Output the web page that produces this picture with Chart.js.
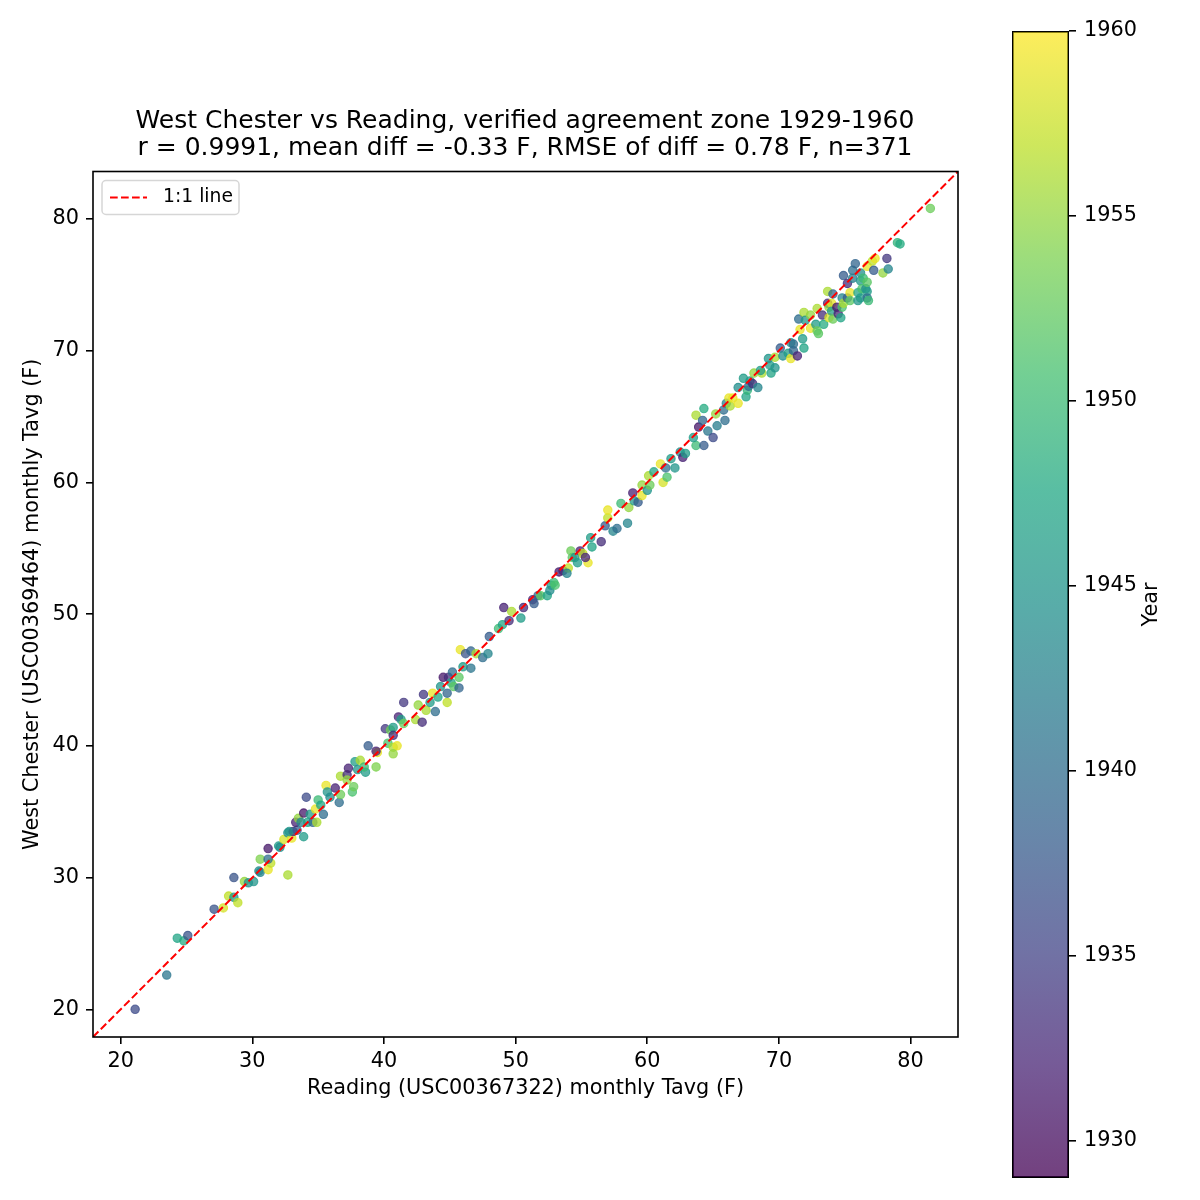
<!DOCTYPE html>
<html>
<head>
<meta charset="utf-8">
<title>West Chester vs Reading</title>
<script src="https://cdn.jsdelivr.net/npm/chart.js@4.4.1/dist/chart.umd.min.js"></script>
<style>
  html, body { margin: 0; padding: 0; background: #fff; }
  #wrap { position: relative; width: 1200px; height: 1200px; }
  #main { position: absolute; left: 0; top: 0; }
  #cbar { position: absolute; left: 1000px; top: 0; }
</style>
</head>
<body>
<div id="wrap">
  <canvas id="main" width="1050" height="1200"></canvas>
  <canvas id="cbar" width="200" height="1200"></canvas>
</div>
<script>
/* West Chester vs Reading monthly Tavg scatter, coloured by year */

// Reading (x), West Chester (y), year of each month
const readingF = [
  21.1, 23.5, 24.3, 24.8, 25.1, 27.1, 27.8, 28.2, 28.6, 28.9,
  28.6, 29.4, 29.7, 30.1, 30.5, 30.6, 30.6, 31.2, 31.2, 31.4,
  31.2, 32.0, 32.7, 32.1, 32.4, 32.7, 33.0, 33.1, 32.8, 33.4,
  33.3, 33.5, 33.7, 33.9, 33.9, 34.1, 34.2, 34.4, 34.6, 34.9,
  34.8, 35.0, 35.2, 35.4, 35.6, 35.7, 35.9, 36.3, 36.7, 36.6,
  36.7, 37.2, 37.2, 37.3, 37.6, 37.7, 37.8, 38.0, 38.2, 38.6,
  38.5, 38.8, 39.4, 39.5, 39.4, 40.1, 40.3, 40.5, 40.7, 40.7,
  40.7, 41.0, 40.7, 41.1, 41.3, 41.5, 41.5, 42.4, 42.9, 42.6,
  43.0, 43.2, 43.5, 43.7, 43.9, 44.1, 44.8, 44.8, 44.3, 44.5,
  44.9, 45.1, 45.3, 45.2, 45.7, 45.7, 46.0, 46.6, 45.8, 46.2,
  46.6, 47.0, 47.5, 47.9, 48.0, 48.7, 49.0, 49.1, 49.5, 49.7,
  50.4, 50.6, 51.3, 51.4, 51.7, 51.9, 52.4, 52.6, 52.7, 52.9,
  53.0, 53.3, 53.6, 54.0, 53.9, 54.2, 54.3, 54.5, 54.7, 54.9,
  55.1, 55.5, 55.3, 55.7, 55.8, 56.5, 56.8, 57.0, 57.0, 57.4,
  57.7, 58.5, 58.0, 58.6, 58.9, 59.0, 59.3, 59.6, 59.6, 60.0,
  60.2, 60.1, 60.5, 61.0, 61.2, 61.5, 61.4, 61.8, 62.1, 62.5,
  62.7, 62.9, 63.7, 63.5, 63.7, 63.9, 64.2, 64.3, 64.3, 64.6,
  65.0, 65.2, 65.3, 65.8, 65.9, 66.0, 66.2, 66.3, 66.5, 66.9,
  67.5, 66.9, 67.6, 67.3, 67.8, 67.7, 68.0, 68.1, 68.4, 68.7,
  68.6, 69.3, 69.4, 69.2, 69.7, 69.7, 70.1, 70.3, 70.7, 70.9,
  70.9, 71.1, 71.4, 71.1, 71.8, 71.9, 71.6, 71.5, 71.9, 72.0,
  72.4, 72.4, 72.8, 72.9, 73.0, 73.4, 72.9, 73.3, 73.7, 73.8,
  73.8, 73.7, 74.0, 74.0, 74.1, 74.1, 74.4, 74.5, 74.7, 74.8,
  74.8, 74.9, 74.9, 75.2, 75.2, 75.4, 75.4, 75.6, 75.6, 75.8,
  76.0, 76.0, 76.2, 76.2, 76.2, 76.3, 76.4, 76.6, 76.7, 76.7,
  76.7, 76.7, 76.8, 77.1, 77.2, 77.3, 77.9, 78.2, 78.3, 79.0,
  79.2, 81.5
];
const westChesterF = [
  20.0, 22.6, 25.4, 25.2, 25.6, 27.6, 27.7, 28.6, 28.5, 28.1,
  30.0, 29.7, 29.6, 29.7, 30.5, 30.4, 31.4, 32.2, 30.6, 31.1,
  31.4, 32.4, 30.2, 32.3, 32.9, 33.4, 33.0, 33.5, 33.5, 33.6,
  34.2, 34.5, 34.2, 33.1, 34.9, 36.1, 34.2, 34.8, 34.2, 34.2,
  35.2, 35.9, 35.5, 34.8, 37.0, 36.5, 36.1, 36.8, 37.7, 35.7,
  36.3, 37.8, 37.4, 38.3, 36.5, 36.9, 38.8, 38.2, 38.9, 38.0,
  38.4, 40.0, 38.4, 39.5, 39.6, 41.3, 40.2, 41.2, 41.4, 40.8,
  39.9, 40.0, 39.4, 42.2, 42.0, 41.7, 43.3, 42.0, 41.8, 43.1,
  43.9, 42.7, 43.3, 44.0, 42.6, 43.7, 43.3, 44.0, 44.5, 45.2,
  45.2, 44.8, 44.5, 45.6, 44.4, 45.2, 46.0, 45.9, 47.3, 47.0,
  47.2, 47.0, 46.7, 47.0, 48.3, 48.9, 49.2, 50.5, 49.5, 50.2,
  49.7, 50.5, 51.1, 50.8, 51.4, 51.4, 51.4, 51.8, 52.2, 52.4,
  52.2, 53.2, 53.3, 53.5, 53.1, 54.8, 54.3, 54.3, 53.9, 54.8,
  54.6, 53.9, 54.3, 55.8, 55.1, 55.5, 56.7, 57.3, 57.9, 56.3,
  56.5, 56.9, 58.4, 58.1, 59.2, 58.6, 58.5, 59.0, 59.8, 59.4,
  59.8, 60.5, 60.8, 61.4, 60.0, 60.4, 61.1, 61.8, 61.1, 62.3,
  61.9, 62.2, 62.8, 63.4, 65.1, 64.2, 64.7, 65.6, 62.8, 63.9,
  63.4, 65.2, 64.3, 65.5, 64.7, 66.0, 66.4, 65.8, 66.4, 66.0,
  66.5, 67.2, 67.0, 67.9, 67.7, 67.3, 67.5, 68.3, 67.2, 68.3,
  68.5, 68.9, 68.3, 69.4, 68.7, 69.5, 70.2, 69.6, 69.8, 70.6,
  69.4, 70.0, 69.6, 70.5, 70.9, 70.2, 71.6, 72.4, 72.9, 72.3,
  72.7, 71.7, 72.0, 71.5, 71.3, 72.0, 73.2, 72.7, 73.6, 73.3,
  72.5, 74.5, 73.6, 73.0, 74.3, 72.4, 73.3, 72.8, 72.5, 74.0,
  73.3, 73.6, 75.7, 74.0, 75.1, 74.4, 73.8, 76.1, 75.5, 76.6,
  74.4, 73.8, 75.3, 74.0, 75.9, 74.7, 75.5, 74.7, 74.5, 74.0,
  75.2, 76.4, 73.8, 76.8, 76.1, 77.0, 75.9, 77.0, 76.2, 78.2,
  78.1, 80.8
];
const obsYear = [
  1936, 1941, 1947, 1948, 1937, 1937, 1958, 1957, 1945, 1957,
  1937, 1955, 1944, 1945, 1944, 1943, 1954, 1931, 1959, 1957,
  1940, 1946, 1956, 1944, 1958, 1944, 1959, 1932, 1945, 1938,
  1932, 1955, 1943, 1946, 1931, 1936, 1947, 1946, 1939, 1956,
  1959, 1950, 1947, 1940, 1959, 1945, 1944, 1932, 1956, 1940,
  1953, 1933, 1955, 1932, 1951, 1953, 1946, 1945, 1956, 1946,
  1950, 1938, 1954, 1959, 1932, 1934, 1951, 1953, 1946, 1933,
  1956, 1959, 1955, 1932, 1946, 1953, 1934, 1956, 1933, 1955,
  1934, 1956, 1946, 1959, 1940, 1947, 1957, 1939, 1945, 1931,
  1933, 1947, 1952, 1940, 1939, 1952, 1946, 1941, 1959, 1937,
  1939, 1956, 1940, 1943, 1938, 1950, 1947, 1932, 1933, 1956,
  1946, 1933, 1932, 1938, 1939, 1952, 1947, 1944, 1945, 1950,
  1951, 1931, 1932, 1957, 1943, 1953, 1952, 1945, 1946, 1932,
  1957, 1959, 1932, 1946, 1947, 1933, 1938, 1957, 1959, 1943,
  1940, 1943, 1950, 1955, 1932, 1946, 1938, 1959, 1955, 1945,
  1953, 1956, 1947, 1959, 1958, 1951, 1940, 1946, 1945, 1944,
  1932, 1946, 1950, 1946, 1956, 1931, 1939, 1948, 1938, 1941,
  1936, 1955, 1942, 1940, 1940, 1943, 1959, 1956, 1959, 1959,
  1947, 1944, 1949, 1946, 1946, 1940, 1933, 1955, 1943, 1956,
  1946, 1946, 1947, 1945, 1945, 1956, 1938, 1944, 1946, 1944,
  1959, 1939, 1932, 1940, 1946, 1947, 1959, 1940, 1956, 1945,
  1955, 1959, 1946, 1953, 1952, 1948, 1956, 1933, 1933, 1955,
  1958, 1956, 1959, 1946, 1939, 1953, 1931, 1932, 1947, 1943,
  1951, 1956, 1938, 1938, 1933, 1959, 1952, 1940, 1942, 1939,
  1947, 1945, 1945, 1946, 1944, 1951, 1950, 1944, 1946, 1940,
  1952, 1959, 1950, 1957, 1938, 1959, 1955, 1934, 1943, 1949,
  1948, 1953
];

const axisRange = [17.9, 83.6];
const axisTicks = [20, 30, 40, 50, 60, 70, 80];
const yearRange = [1929, 1960];
const yearTicks = [1930, 1935, 1940, 1945, 1950, 1955, 1960];

const titleLines = [
  'West Chester vs Reading, verified agreement zone 1929-1960',
  'r = 0.9991, mean diff = -0.33 F, RMSE of diff = 0.78 F, n=371'
];

// viridis colormap stops
const VIRIDIS = ['#440154', '#482475', '#414487', '#355f8d', '#2a788e', '#21918c',
                 '#22a884', '#44bf70', '#7ad151', '#bddf26', '#fde725'];
const ALPHA = 0.75;

function hexRgb(h) {
  return [parseInt(h.slice(1, 3), 16), parseInt(h.slice(3, 5), 16), parseInt(h.slice(5, 7), 16)];
}
function viridis(t, a) {
  t = Math.max(0, Math.min(1, t));
  const s = t * (VIRIDIS.length - 1);
  const i = Math.min(Math.floor(s), VIRIDIS.length - 2);
  const f = s - i;
  const c0 = hexRgb(VIRIDIS[i]), c1 = hexRgb(VIRIDIS[i + 1]);
  const c = c0.map((v, k) => Math.round(v + (c1[k] - v) * f));
  return `rgba(${c[0]},${c[1]},${c[2]},${a})`;
}

Chart.defaults.font.family = "'DejaVu Sans', sans-serif";
Chart.defaults.color = '#000';

const FS = 20.8;
const LEGEND_FS = 18.75;
const pointColors = obsYear.map((y) => viridis((y - yearRange[0]) / (yearRange[1] - yearRange[0]), ALPHA));
const points = readingF.map((x, i) => ({ x, y: westChesterF[i] }));

const fixedTicks = (vals) => (axis) => { axis.ticks = vals.map((v) => ({ value: v })); };
const tickGrid = { drawOnChartArea: false, drawTicks: true, tickLength: 7, color: '#000', lineWidth: 1.6 };

// axes frame + in-plot legend
const frameAndLegend = {
  id: 'frameAndLegend',
  afterDatasetsDraw(chart) {
    const { ctx, chartArea: a } = chart;
    ctx.save();
    ctx.strokeStyle = '#000';
    ctx.lineWidth = 1.6;
    ctx.strokeRect(a.left, a.top, a.right - a.left, a.bottom - a.top);

    const bx = a.left + 9, by = a.top + 9, bw = 137, bh = 34;
    ctx.beginPath();
    ctx.roundRect(bx, by, bw, bh, 4);
    ctx.fillStyle = 'rgba(255,255,255,0.8)';
    ctx.fill();
    ctx.strokeStyle = '#d6d6d6';
    ctx.lineWidth = 1.5;
    ctx.stroke();

    ctx.beginPath();
    ctx.setLineDash([7.7, 3.3]);
    ctx.strokeStyle = '#ff0000';
    ctx.lineWidth = 2;
    ctx.moveTo(bx + 8, by + bh / 2);
    ctx.lineTo(bx + 45, by + bh / 2);
    ctx.stroke();
    ctx.setLineDash([]);

    ctx.fillStyle = '#000';
    ctx.font = `${LEGEND_FS}px 'DejaVu Sans', sans-serif`;
    ctx.textBaseline = 'middle';
    ctx.textAlign = 'left';
    ctx.fillText('1:1 line', bx + 61, by + bh / 2);
    ctx.restore();
  }
};

new Chart(document.getElementById('main'), {
  type: 'scatter',
  data: {
    datasets: [
      {
        label: '1:1 line',
        data: [{ x: axisRange[0], y: axisRange[0] }, { x: axisRange[1], y: axisRange[1] }],
        showLine: true,
        borderColor: '#ff0000',
        borderWidth: 2,
        borderDash: [7.7, 3.3],
        pointRadius: 0,
        order: 0
      },
      {
        label: 'months',
        data: points,
        backgroundColor: pointColors,
        borderColor: pointColors,
        borderWidth: 1.1,
        pointRadius: 4.2,
        order: 1
      }
    ]
  },
  options: {
    responsive: false,
    animation: false,
    events: [],
    layout: { padding: 0 },
    plugins: {
      legend: { display: false },
      tooltip: { enabled: false },
      title: {
        display: true,
        text: titleLines,
        color: '#000',
        font: { size: 25, weight: 'normal', lineHeight: 1.09 },
        padding: { top: 108, bottom: 9 }
      }
    },
    scales: {
      x: {
        type: 'linear',
        min: axisRange[0],
        max: axisRange[1],
        afterBuildTicks: fixedTicks(axisTicks),
        afterFit: (axis) => { axis.height = 163; },
        grid: tickGrid,
        border: { display: false },
        ticks: { font: { size: FS }, padding: 5, maxRotation: 0, autoSkip: false },
        title: {
          display: true,
          text: 'Reading (USC00367322) monthly Tavg (F)',
          font: { size: FS },
          padding: { top: 0, bottom: 99 }
        }
      },
      y: {
        type: 'linear',
        min: axisRange[0],
        max: axisRange[1],
        afterBuildTicks: fixedTicks(axisTicks),
        afterFit: (axis) => { axis.width = 93; },
        grid: tickGrid,
        border: { display: false },
        ticks: { font: { size: FS }, padding: 7, autoSkip: false },
        title: {
          display: true,
          text: 'West Chester (USC00369464) monthly Tavg (F)',
          font: { size: FS },
          padding: { top: 20, bottom: 0 }
        }
      },
      spacer: {
        type: 'linear',
        position: 'right',
        axis: 'y',
        afterFit: (axis) => { axis.width = 92; },
        grid: { display: false },
        border: { display: false },
        ticks: { display: false }
      }
    }
  },
  plugins: [frameAndLegend]
});

// colour bar
const yearLabel = {
  id: 'yearLabel',
  afterDraw(chart) {
    const { ctx, chartArea: a } = chart;
    ctx.save();
    ctx.translate(152, (a.top + a.bottom) / 2);
    ctx.rotate(-Math.PI / 2);
    ctx.fillStyle = '#000';
    ctx.font = `${FS}px 'DejaVu Sans', sans-serif`;
    ctx.textAlign = 'center';
    ctx.textBaseline = 'middle';
    ctx.fillText('Year', 0, 0);
    ctx.restore();
  }
};

new Chart(document.getElementById('cbar'), {
  type: 'bar',
  data: {
    labels: ['Year'],
    datasets: [{
      data: [yearRange],
      backgroundColor: (c) => {
        const area = c.chart.chartArea;
        if (!area) return 'rgba(0,0,0,0)';
        const g = c.chart.ctx.createLinearGradient(0, area.bottom, 0, area.top);
        VIRIDIS.forEach((hex, i) => g.addColorStop(i / (VIRIDIS.length - 1), viridis(i / (VIRIDIS.length - 1), ALPHA)));
        return g;
      },
      borderColor: '#000',
      borderWidth: 1.6,
      borderSkipped: false,
      barPercentage: 1,
      categoryPercentage: 1
    }]
  },
  options: {
    responsive: false,
    animation: false,
    events: [],
    layout: { padding: { left: 12, top: 31, bottom: 22, right: 0 } },
    plugins: { legend: { display: false }, tooltip: { enabled: false } },
    scales: {
      x: { display: false },
      y: {
        position: 'right',
        min: yearRange[0],
        max: yearRange[1],
        beginAtZero: false,
        afterBuildTicks: fixedTicks(yearTicks),
        afterFit: (axis) => { axis.width = 131; },
        grid: tickGrid,
        border: { display: false },
        ticks: { font: { size: FS }, padding: 8, autoSkip: false, callback: (v) => String(v) }
      }
    }
  },
  plugins: [yearLabel]
});
</script>
</body>
</html>
